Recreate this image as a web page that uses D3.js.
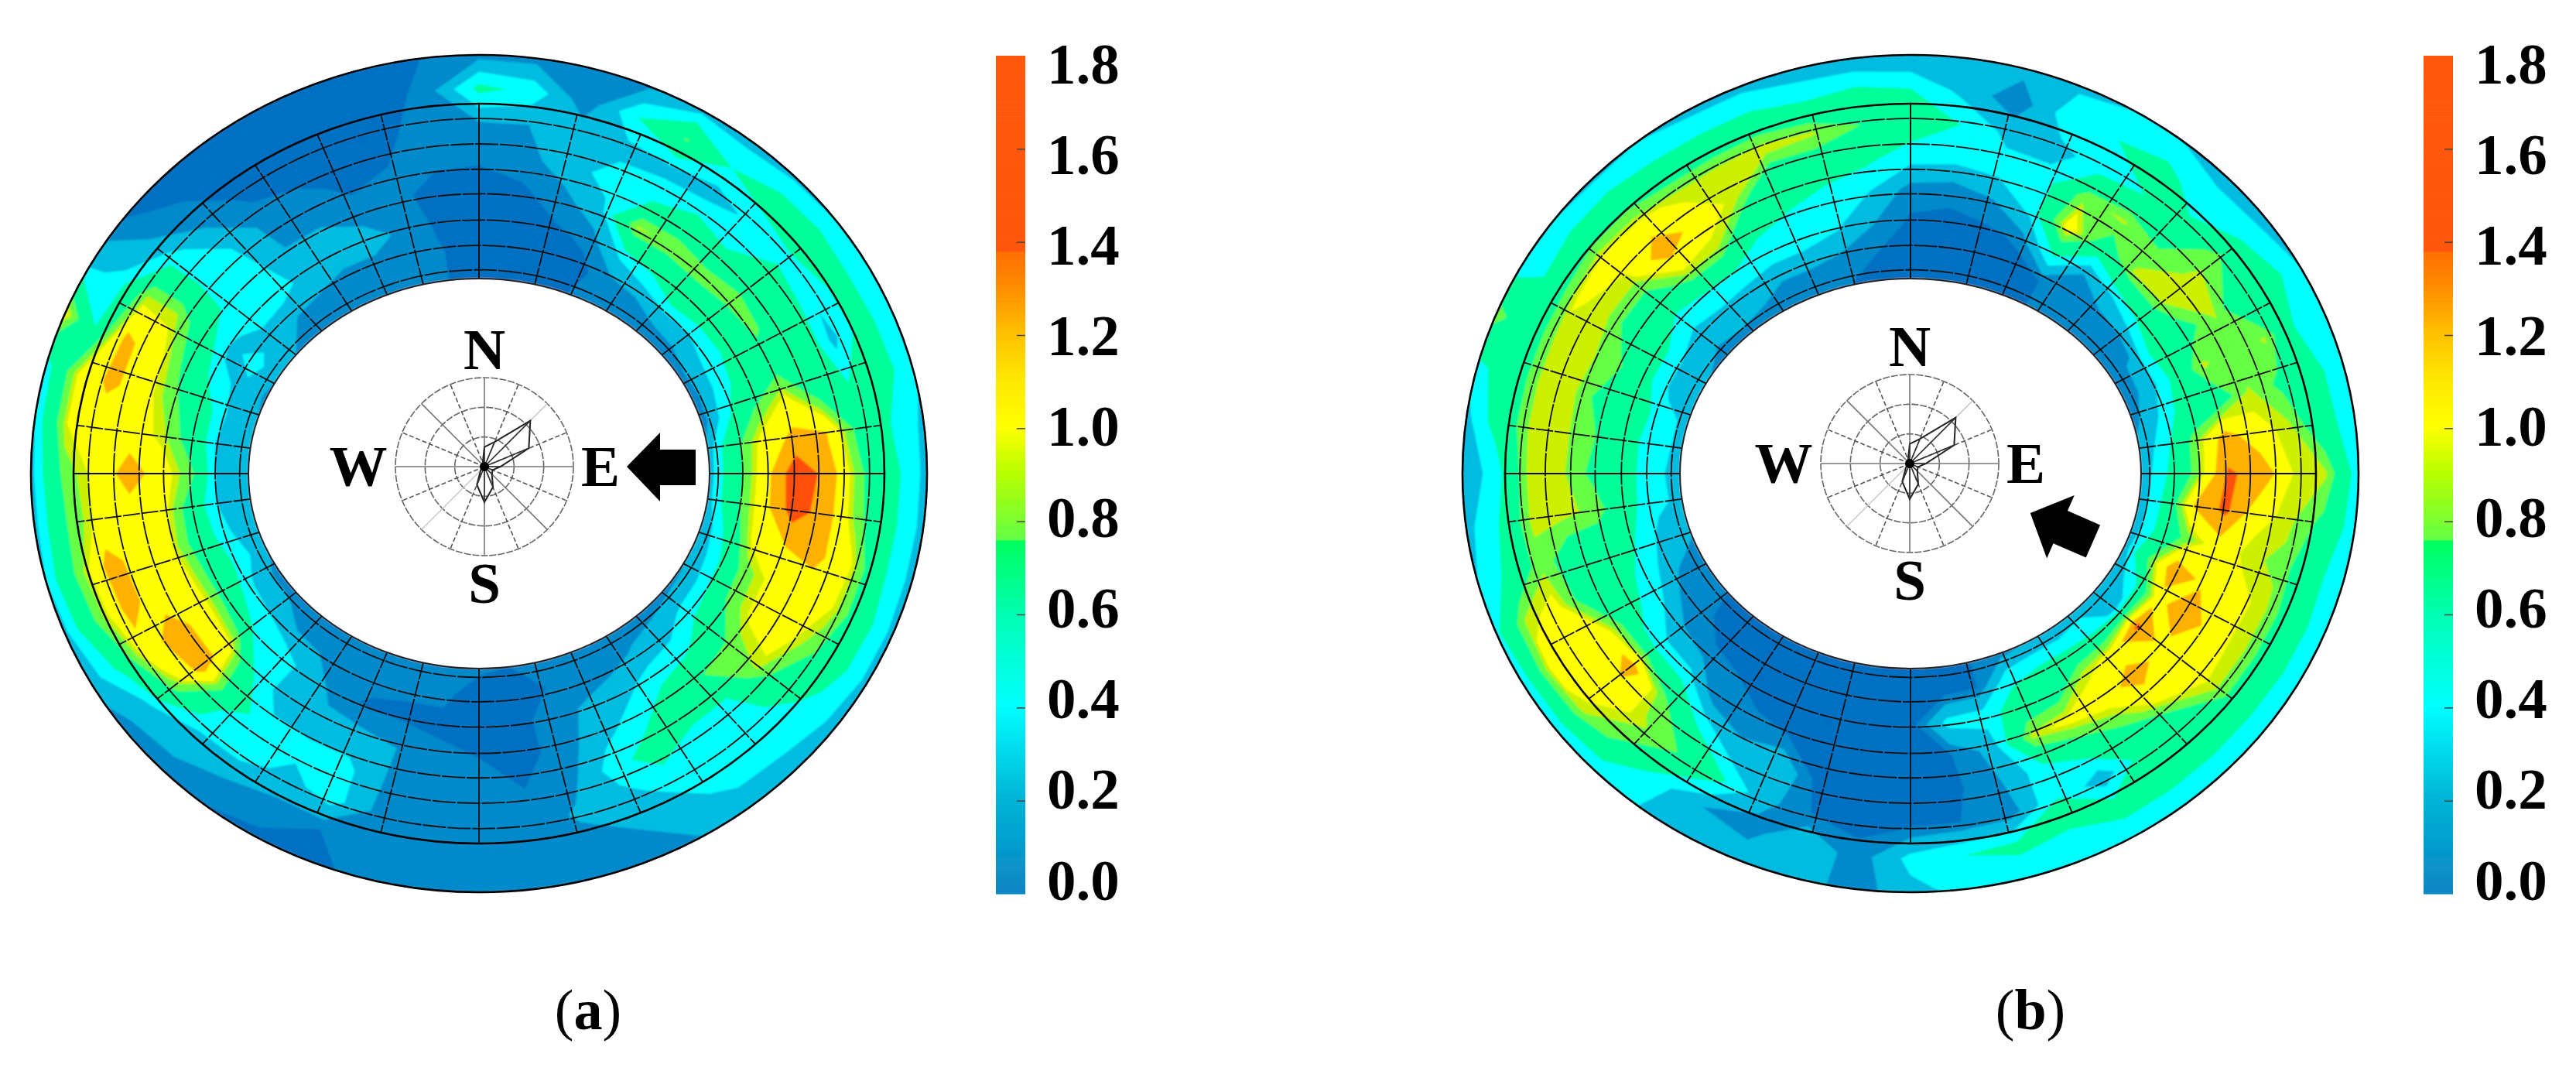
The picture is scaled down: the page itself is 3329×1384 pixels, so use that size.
<!DOCTYPE html>
<html>
<head>
<meta charset="utf-8">
<script src="https://cdn.jsdelivr.net/npm/d3@7"></script>
<style>
  html, body { margin: 0; background: #fff; }
  text { font-family: "Liberation Serif", serif; fill: #000; }
</style>
</head>
<body>
<script>
// values, one row per sector (7.5 deg each, clockwise from north),
// each row goes from the hole edge out to the outer edge of the ring
var ringFractions = [0, 0.12, 0.25, 0.4, 0.55, 0.7, 0.85, 1];

var fieldA = [
  [.08,.05,.05,.05,.12,.2,.55,.15],
  [.08,.05,.05,.08,.15,.2,.45,.15],
  [.08,.05,.08,.15,.28,.3,.1,.18],
  [.1,.07,.12,.3,.42,.3,.5,.18],
  [.12,.15,.38,.95,.45,.3,.82,.3],
  [.12,.2,.5,.9,.58,.28,.5,.3],
  [.1,.27,.7,.85,.5,.38,.6,.32],
  [.15,.25,.6,.85,.7,.45,.62,.35],
  [.15,.35,.55,.82,.7,.38,.58,.35],
  [.12,.38,.6,.7,.75,.3,.6,.35],
  [.12,.45,.8,1.05,.7,.5,.6,.38],
  [.25,.7,1.05,1.25,1.2,.72,.5,.32],
  [.28,.7,1.1,1.55,1.32,.82,.55,.3],
  [.28,.7,1.1,1.5,1.3,.85,.55,.3],
  [.2,.55,1.05,1.2,1.25,1.05,.55,.3],
  [.2,.45,.85,1.05,1.1,1.0,.6,.3],
  [.18,.4,.8,1.05,1.1,.85,.58,.3],
  [.15,.38,.62,.85,.95,.6,.45,.3],
  [.13,.28,.42,.8,.5,.42,.42,.25],
  [.13,.22,.4,.62,.5,.42,.42,.2],
  [.1,.15,.3,.42,.6,.42,.28,.2],
  [.1,.12,.22,.3,.42,.3,.2,.15],
  [.1,.1,.15,.12,.15,.22,.15,.15],
  [.1,.06,.06,.08,.1,.12,.12,.12],
  [.12,.05,.05,.1,.15,.15,.15,.15],
  [.12,.12,.08,.12,.15,.15,.15,.13],
  [.12,.12,.08,.2,.18,.15,.12,.12],
  [.15,.15,.08,.25,.4,.42,.1,.08],
  [.15,.2,.15,.25,.4,.3,.15,.08],
  [.15,.18,.3,.25,.42,.42,.2,.1],
  [.12,.2,.45,.5,.6,.4,.27,.12],
  [.15,.3,.5,1.1,1.3,.85,.3,.15],
  [.15,.32,.65,1.15,1.25,1.15,.55,.25],
  [.22,.42,.65,1.1,1.15,1.25,.8,.3],
  [.2,.35,.6,1.0,1.1,1.28,.85,.35],
  [.3,.25,.6,1.05,1.1,1.05,.8,.3],
  [.25,.2,.8,1.1,1.3,1.05,.85,.3],
  [.25,.2,.65,.95,1.1,1.05,1.0,.35],
  [.2,.3,.6,.85,1.1,1.25,1.0,.4],
  [.18,.3,.42,.75,1.1,1.25,.5,1.05],
  [.2,.42,.3,.65,.95,.95,.4,.3],
  [.2,.25,.42,.45,.45,.42,.2,.1],
  [.12,.2,.42,.4,.35,.18,.1,.06],
  [.1,.18,.3,.2,.15,.08,.06,.05],
  [.12,.15,.25,.2,.12,.06,.05,.05],
  [.1,.12,.28,.12,.08,.08,.05,.05],
  [.1,.15,.15,.12,.1,.08,.06,.05],
  [.1,.1,.08,.07,.12,.13,.12,.1]
];

var fieldB = [
  [.08,.05,.08,.15,.42,.62,.5,.2],
  [.08,.05,.08,.12,.4,.5,.3,.2],
  [.1,.05,.07,.2,.42,.3,.1,.25],
  [.08,.05,.12,.4,.4,.3,.45,.32],
  [.1,.1,.5,1.1,.9,.42,.5,.35],
  [.12,.1,.2,.65,.95,.5,.55,.35],
  [.12,.12,.35,.96,.8,.55,.42,.3],
  [.15,.12,.5,.96,.96,.9,.5,.28],
  [.15,.22,.65,.7,.95,.5,.6,.35],
  [.12,.25,.55,.96,.8,.95,.5,.35],
  [.15,.35,.6,.65,.95,.75,.6,.35],
  [.25,.42,.85,1.3,1.05,.96,.6,.38],
  [.25,.5,.85,1.42,1.35,1.0,.95,.38],
  [.25,.55,1.2,1.45,1.05,.96,.75,.38],
  [.25,.55,.85,1.1,.96,.9,.6,.35],
  [.25,.8,1.35,1.15,1.05,.96,.6,.38],
  [.25,.42,1.1,1.4,1.05,.96,.6,.38],
  [.25,.3,1.45,1.1,1.1,.96,.6,.35],
  [.3,.45,1.05,1.3,1.05,.6,.6,.35],
  [.2,.5,.96,1.1,.8,.6,.6,.35],
  [.2,.5,.65,1.05,.62,.25,.6,.35],
  [.15,.45,.6,.96,.45,.5,.5,.35],
  [.1,.1,.42,.25,.2,.12,.55,.38],
  [.08,.08,.4,.1,.08,.1,.5,.4],
  [.1,.05,.05,.06,.06,.08,.4,.3],
  [.1,.05,.05,.06,.06,.08,.12,.12],
  [.1,.05,.05,.06,.05,.1,.35,.3],
  [.1,.06,.06,.1,.35,.25,.15,.3],
  [.08,.05,.06,.12,.25,.55,.2,.25],
  [.08,.05,.1,.12,.5,.8,.42,.35],
  [.08,.06,.12,.42,.85,.96,.75,.35],
  [.1,.12,.2,.42,1.3,1.1,.96,.35],
  [.2,.12,.35,.55,1.05,1.05,1.05,.35],
  [.15,.25,.42,.62,.65,1.05,.96,.45],
  [.25,.3,.5,.6,.65,.9,.55,.35],
  [.3,.4,.55,.9,.96,.95,.5,.3],
  [.25,.42,.55,.75,.96,.95,.38,.3],
  [.3,.42,.55,.8,.96,.96,.6,.3],
  [.3,.42,.6,.7,.96,.96,.6,.45],
  [.2,.3,.55,.85,.96,.96,.6,.9],
  [.2,.3,.55,.65,.95,1.02,.55,.35],
  [.15,.25,.42,.65,.96,1.1,.6,.35],
  [.15,.3,.42,.96,1.35,1.05,.62,.32],
  [.15,.25,.45,.95,1.1,.96,.55,.35],
  [.12,.2,.42,.55,.96,.96,.55,.3],
  [.1,.2,.42,.5,.55,1.0,.55,.3],
  [.1,.15,.35,.42,.62,.95,.5,.25],
  [.08,.1,.2,.35,.55,.8,.55,.22]
];

var levelBreaks = [0.1, 0.2, 0.35, 0.5, 0.8, 0.93, 1.0, 1.2, 1.4];
var levelColors = ['#0389cb', '#00bce0', '#00ffff', '#00ff99', '#66ff44', '#ccf000', '#ffff00', '#ffb000', '#ff5008'];
var lowestColor = '#0670c2';

var colorbarTicks = [0, 0.2, 0.4, 0.6, 0.8, 1.0, 1.2, 1.4, 1.6, 1.8];
var colorbarStops = [0, 0.2, 0.4, 0.6, 0.75, 0.76, 0.9, 1.0, 1.1, 1.2, 1.3, 1.37, 1.38, 1.8];
var colorbarStopColors = ['#0a86c4', '#00b4d6', '#00ffff', '#00ffb0', '#00ff60', '#66ff44', '#b8ff00', '#ffff00',
  '#ffe800', '#ffc000', '#ff8c00', '#ff7000', '#ff5808', '#ff5808'];

var compassDirections = d3.range(16);
var roseValues = [.22, .3, .73, .54, .18, .1, .12, .25, .4, .22, .06, .03, .03, .03, .03, .05];
var compassRings = [1 / 3, 2 / 3, 1];

var meshRings = [.05, .19, .335, .485, .625, .77, .915];
var meshQuadrant = [0, 14, 23.5, 33.5, 43, 52.5, 62.5, 72.5, 82.5, 90];

var svgWidth = 3329;
var svgHeight = 1384;

var hole = {rx: 298, ry: 252};
var mesh = {rx: 524, ry: 478};
var outer = {rx: 579, ry: 541};

var arrowShape = [[-45, 0], [-2, -44], [-2, -22], [44, -22], [44, 24], [-2, 24], [-2, 45]];

var panels = [
  {field: fieldA, cx: 619, cy: 612, compass: [626, 603], arrow: [855, 603], turn: 0, barX: 1287, label: 'a', labelX: 760},
  {field: fieldB, cx: 2469, cy: 612, compass: [2468, 599], arrow: [2665, 681], turn: 23.6, barX: 3132, label: 'b', labelX: 2624}
];

var svg = d3.select('body').append('svg')
  .attr('width', svgWidth)
  .attr('height', svgHeight)
  .style('display', 'block');

var defs = svg.append('defs');
defs.append('filter').attr('id', 'soft')
  .append('feGaussianBlur').attr('stdDeviation', 1.1);
defs.append('filter').attr('id', 'softLine')
  .append('feGaussianBlur').attr('stdDeviation', 0.6);

var columns = fieldA.length;
var rows = ringFractions.length;

var angleScale = d3.scaleLinear().domain([0, columns]).range([0, 2 * Math.PI]);
var ringScale = d3.scaleLinear().domain(d3.range(rows)).range(ringFractions);

var barY = d3.scaleLinear().domain([0, 1.8]).range([1155, 72]);
var labelY = d3.scaleLinear().domain([0, 1.8]).range([1137, 82]);
var barColor = d3.scaleLinear().domain(colorbarStops).range(colorbarStopColors);

var contours = d3.contours()
  .size([columns + 1, rows])
  .thresholds(levelBreaks);

function drawPanel(p) {
  var g = svg.append('g');

  // the ring is a table of angle x radius, so the contours come out in that space
  var values = [];
  for (var j = 0; j < rows; j++) {
    for (var i = 0; i <= columns; i++) {
      values.push(p.field[i % columns][j]);
    }
  }

  function toRing(col, row) {
    var a = angleScale(Math.max(0, Math.min(columns, col - 0.5)));
    var t = ringScale(Math.max(0, Math.min(rows - 1, row - 0.5)));
    var rx = hole.rx + (outer.rx - hole.rx) * t;
    var ry = hole.ry + (outer.ry - hole.ry) * t;
    return [p.cx + rx * Math.sin(a), p.cy - ry * Math.cos(a)];
  }

  var path = d3.geoPath(d3.geoTransform({
    point: function(x, y) {
      var q = toRing(x, y);
      this.stream.point(q[0], q[1]);
    }
  }));

  var map = g.append('g').attr('filter', 'url(#soft)');

  map.append('ellipse')
    .attr('cx', p.cx).attr('cy', p.cy)
    .attr('rx', outer.rx).attr('ry', outer.ry)
    .style('fill', lowestColor);

  map.selectAll('path.band')
    .data(contours(values))
    .enter()
    .append('path')
      .attr('class', 'band')
      .attr('d', path)
      .style('fill', function(d, i) { return levelColors[i]; });

  map.append('ellipse')
    .attr('cx', p.cx).attr('cy', p.cy)
    .attr('rx', hole.rx).attr('ry', hole.ry)
    .style('fill', '#fff');

  var lines = g.append('g').attr('filter', 'url(#softLine)');

  // mesh rings
  lines.selectAll('ellipse.meshRing')
    .data(meshRings)
    .enter()
    .append('ellipse')
      .attr('class', 'meshRing')
      .attr('cx', p.cx).attr('cy', p.cy)
      .attr('rx', function(d) { return hole.rx + (mesh.rx - hole.rx) * d; })
      .attr('ry', function(d) { return hole.ry + (mesh.ry - hole.ry) * d; })
      .style('fill', 'none')
      .style('stroke', '#111')
      .style('stroke-width', 1.8)
      .style('stroke-dasharray', '30 2');

  // mesh spokes, one quadrant mirrored round
  var spokes = [];
  meshQuadrant.forEach(function(d) {
    spokes.push(d, 180 - d, 180 + d, 360 - d);
  });
  spokes = Array.from(new Set(spokes));

  lines.selectAll('line.meshSpoke')
    .data(spokes)
    .enter()
    .append('line')
      .attr('class', 'meshSpoke')
      .attr('x1', function(d) { return p.cx + hole.rx * Math.sin(d * Math.PI / 180); })
      .attr('y1', function(d) { return p.cy - hole.ry * Math.cos(d * Math.PI / 180); })
      .attr('x2', function(d) { return p.cx + mesh.rx * Math.sin(d * Math.PI / 180); })
      .attr('y2', function(d) { return p.cy - mesh.ry * Math.cos(d * Math.PI / 180); })
      .style('stroke', '#111')
      .style('stroke-width', 1.8)
      .style('stroke-dasharray', function(d) { return d % 90 === 0 ? null : '22 2'; });

  [[mesh, 2.6, '#000'], [outer, 2.6, '#000'], [hole, 2, '#222']].forEach(function(e) {
    lines.append('ellipse')
      .attr('cx', p.cx).attr('cy', p.cy)
      .attr('rx', e[0].rx).attr('ry', e[0].ry)
      .style('fill', 'none')
      .style('stroke', e[2])
      .style('stroke-width', e[1]);
  });

  drawCompass(g, p);

  g.append('polygon')
    .attr('points', arrowShape.join(' '))
    .attr('transform', 'translate(' + p.arrow + ') rotate(' + p.turn + ')')
    .style('fill', '#000');

  drawColorbar(g, p);

  var caption = g.append('text')
    .attr('x', p.labelX)
    .attr('y', 1330)
    .attr('text-anchor', 'middle')
    .style('font-size', '74px');
  caption.append('tspan').text('(');
  caption.append('tspan').style('font-weight', 'bold').text(p.label);
  caption.append('tspan').text(')');
}

function drawCompass(g, p) {
  var radius = 115;
  var rose = d3.scaleLinear().domain([0, 1]).range([0, radius]);
  var c = g.append('g').attr('transform', 'translate(' + p.compass + ')');

  c.selectAll('circle.ring')
    .data(compassRings)
    .enter()
    .append('circle')
      .attr('class', 'ring')
      .attr('r', function(d) { return rose(d); })
      .style('fill', 'none')
      .style('stroke', '#666')
      .style('stroke-width', 1.6)
      .style('stroke-dasharray', '9 2');

  c.selectAll('line.spoke')
    .data(compassDirections)
    .enter()
    .append('line')
      .attr('class', 'spoke')
      .attr('x2', function(d) { return radius * Math.sin(d * Math.PI / 8); })
      .attr('y2', function(d) { return -radius * Math.cos(d * Math.PI / 8); })
      .style('stroke', function(d) {
        if (d === 10 || d === 2) return '#ccc';
        return d % 2 === 0 ? '#777' : '#555';
      })
      .style('stroke-width', 1.6)
      .style('stroke-dasharray', function(d) { return d % 2 === 0 ? null : '6 3'; });

  var roseLine = d3.lineRadial()
    .angle(function(d, i) { return i * Math.PI / 8; })
    .radius(function(d) { return rose(d); })
    .curve(d3.curveLinearClosed);

  c.append('path')
    .attr('d', roseLine(roseValues))
    .style('fill', 'none')
    .style('stroke', '#222')
    .style('stroke-width', 2);

  c.selectAll('line.petal')
    .data(roseValues)
    .enter()
    .append('line')
      .attr('class', 'petal')
      .attr('x2', function(d, i) { return rose(d) * Math.sin(i * Math.PI / 8); })
      .attr('y2', function(d, i) { return -rose(d) * Math.cos(i * Math.PI / 8); })
      .style('stroke', '#333')
      .style('stroke-width', 1.6);

  c.append('circle').attr('r', 6).style('fill', '#000');

  var letters = [['N', 0, -151], ['E', 150, 0], ['S', 0, 151], ['W', -163, 0]];
  c.selectAll('text')
    .data(letters)
    .enter()
    .append('text')
      .attr('x', function(d) { return d[1]; })
      .attr('y', function(d) { return d[2]; })
      .attr('dy', '0.33em')
      .attr('text-anchor', 'middle')
      .style('font-size', '75px')
      .style('font-weight', 'bold')
      .text(function(d) { return d[0]; });
}

function drawColorbar(g, p) {
  var barWidth = 38;
  var b = g.append('g').attr('transform', 'translate(' + p.barX + ',0)').attr('filter', 'url(#softLine)');
  var steps = d3.range(0, 1.8, 0.01);

  b.selectAll('rect')
    .data(steps)
    .enter()
    .append('rect')
      .attr('y', function(d) { return barY(d + 0.01); })
      .attr('width', barWidth)
      .attr('height', function(d) { return barY(d) - barY(d + 0.01) + 0.6; })
      .style('fill', function(d) { return barColor(d); });

  var axis = d3.axisRight(barY)
    .tickValues(colorbarTicks.slice(1, -1))
    .tickSize(-11)
    .tickFormat('');

  b.append('g')
    .attr('transform', 'translate(' + barWidth + ',0)')
    .call(axis)
    .call(function(a) { a.select('.domain').remove(); })
    .selectAll('line')
      .style('stroke', '#444')
      .style('stroke-width', 1.5);

  g.selectAll('text.barLabel' + p.label)
    .data(colorbarTicks)
    .enter()
    .append('text')
      .attr('class', 'barLabel' + p.label)
      .attr('x', p.barX + 66)
      .attr('y', function(d) { return labelY(d); })
      .attr('dy', '0.34em')
      .style('font-size', '75px')
      .style('font-weight', 'bold')
      .text(function(d) { return d.toFixed(1); });
}

panels.forEach(drawPanel);
</script>
</body>
</html>
